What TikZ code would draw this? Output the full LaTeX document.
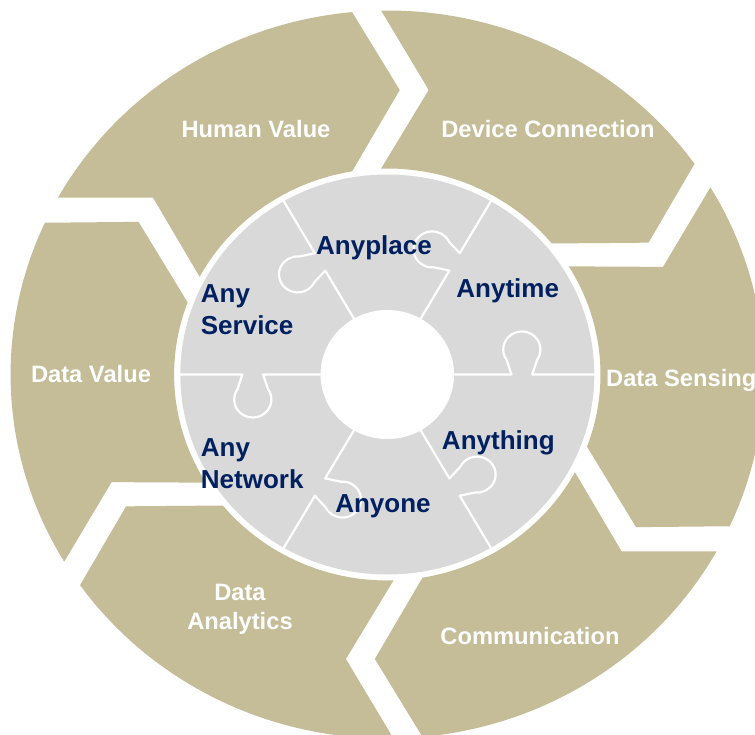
\documentclass[tikz,border=0pt]{standalone}
\usepackage{fontspec}
\setmainfont{Liberation Sans}
\definecolor{ringtan}{HTML}{C4BD97}
\definecolor{discgray}{HTML}{D9D9D9}
\definecolor{anynavy}{HTML}{002060}
\begin{document}
\begin{tikzpicture}[x=1pt,y=1pt,
  seglabel/.style={text=white,font=\fontsize{23.7}{29.3}\selectfont\bfseries,align=center,inner sep=0pt},
  anylabel/.style={text=anynavy,font=\fontsize{26}{32.3}\selectfont\bfseries,inner sep=0pt},
  seam/.style={draw=white,line width=2.2pt,line join=round,line cap=round},
  block/.style={fill=ringtan}]
\useasboundingbox (0,0) rectangle (755,-735);
\fill[white] (0,0) rectangle (755,-735);

\begin{scope}[shift={(387.3,-374.5)},xscale=1.035]
  % outer ring: six chevron blocks running clockwise,
  % each with a point on its leading side and a notch on its trailing side
  \foreach \mid in {120,60,0,-60,-120,180} {
    \pgfmathsetmacro\aLead{\mid-30}
    \pgfmathsetmacro\aTrail{\mid+30}
    \fill[block] ({\aTrail+0.944}:364)
      arc[start angle={\aTrail+0.944}, end angle={\aLead+5.36}, radius=364]
      -- ({\aLead-2.42}:284.75)
      -- ({\aLead+9.50}:206)
      arc[start angle={\aLead+9.50}, end angle={\aTrail+1.669}, radius=206]
      -- ({\aTrail-8.0}:287.3) -- cycle;
  }

  % puzzle disc
  \fill[discgray] (0,0) circle[radius=200];
  \foreach \a in {0,60,...,300} {
    \begin{scope}[rotate=\a]
      \draw[seam] (60,0) -- (120,0) -- (115.26,14.68)
        arc[start angle=215, end angle=-35, radius=18]
        -- (140,0) -- (202,0);
    \end{scope}
  }
  \fill[white] (0,0) circle[radius=64.5];
\end{scope}

% labels of the outer ring
\node[seglabel, anchor=base] (human) at (256,-137.3) {Human Value};
\node[seglabel, anchor=base] (device) at (548,-137.3) {Device Connection};
\node[seglabel, anchor=base west] (sensing) at (606,-386) {Data Sensing};
\node[seglabel, anchor=base] (comm) at (530,-644) {Communication};
\node[seglabel, anchor=north] (analytics) at (240,-584) {Data\\Analytics};
\node[seglabel, anchor=base] (dvalue) at (91,-382) {Data Value};

% labels of the puzzle pieces
\node[anylabel, anchor=base] (anyplace) at (374,-255) {Anyplace};
\node[anylabel, anchor=base] (anytime) at (507.7,-297.3) {Anytime};
\node[anylabel, anchor=base] (anything) at (498.3,-449.3) {Anything};
\node[anylabel, anchor=base] (anyone) at (383,-512.7) {Anyone};
\node[anylabel, anchor=north west, align=left] (anynetwork) at (200.7,-438.3) {Any\\Network};
\node[anylabel, anchor=north west, align=left] (anyservice) at (200.7,-284) {Any\\Service};
\end{tikzpicture}
\end{document}
